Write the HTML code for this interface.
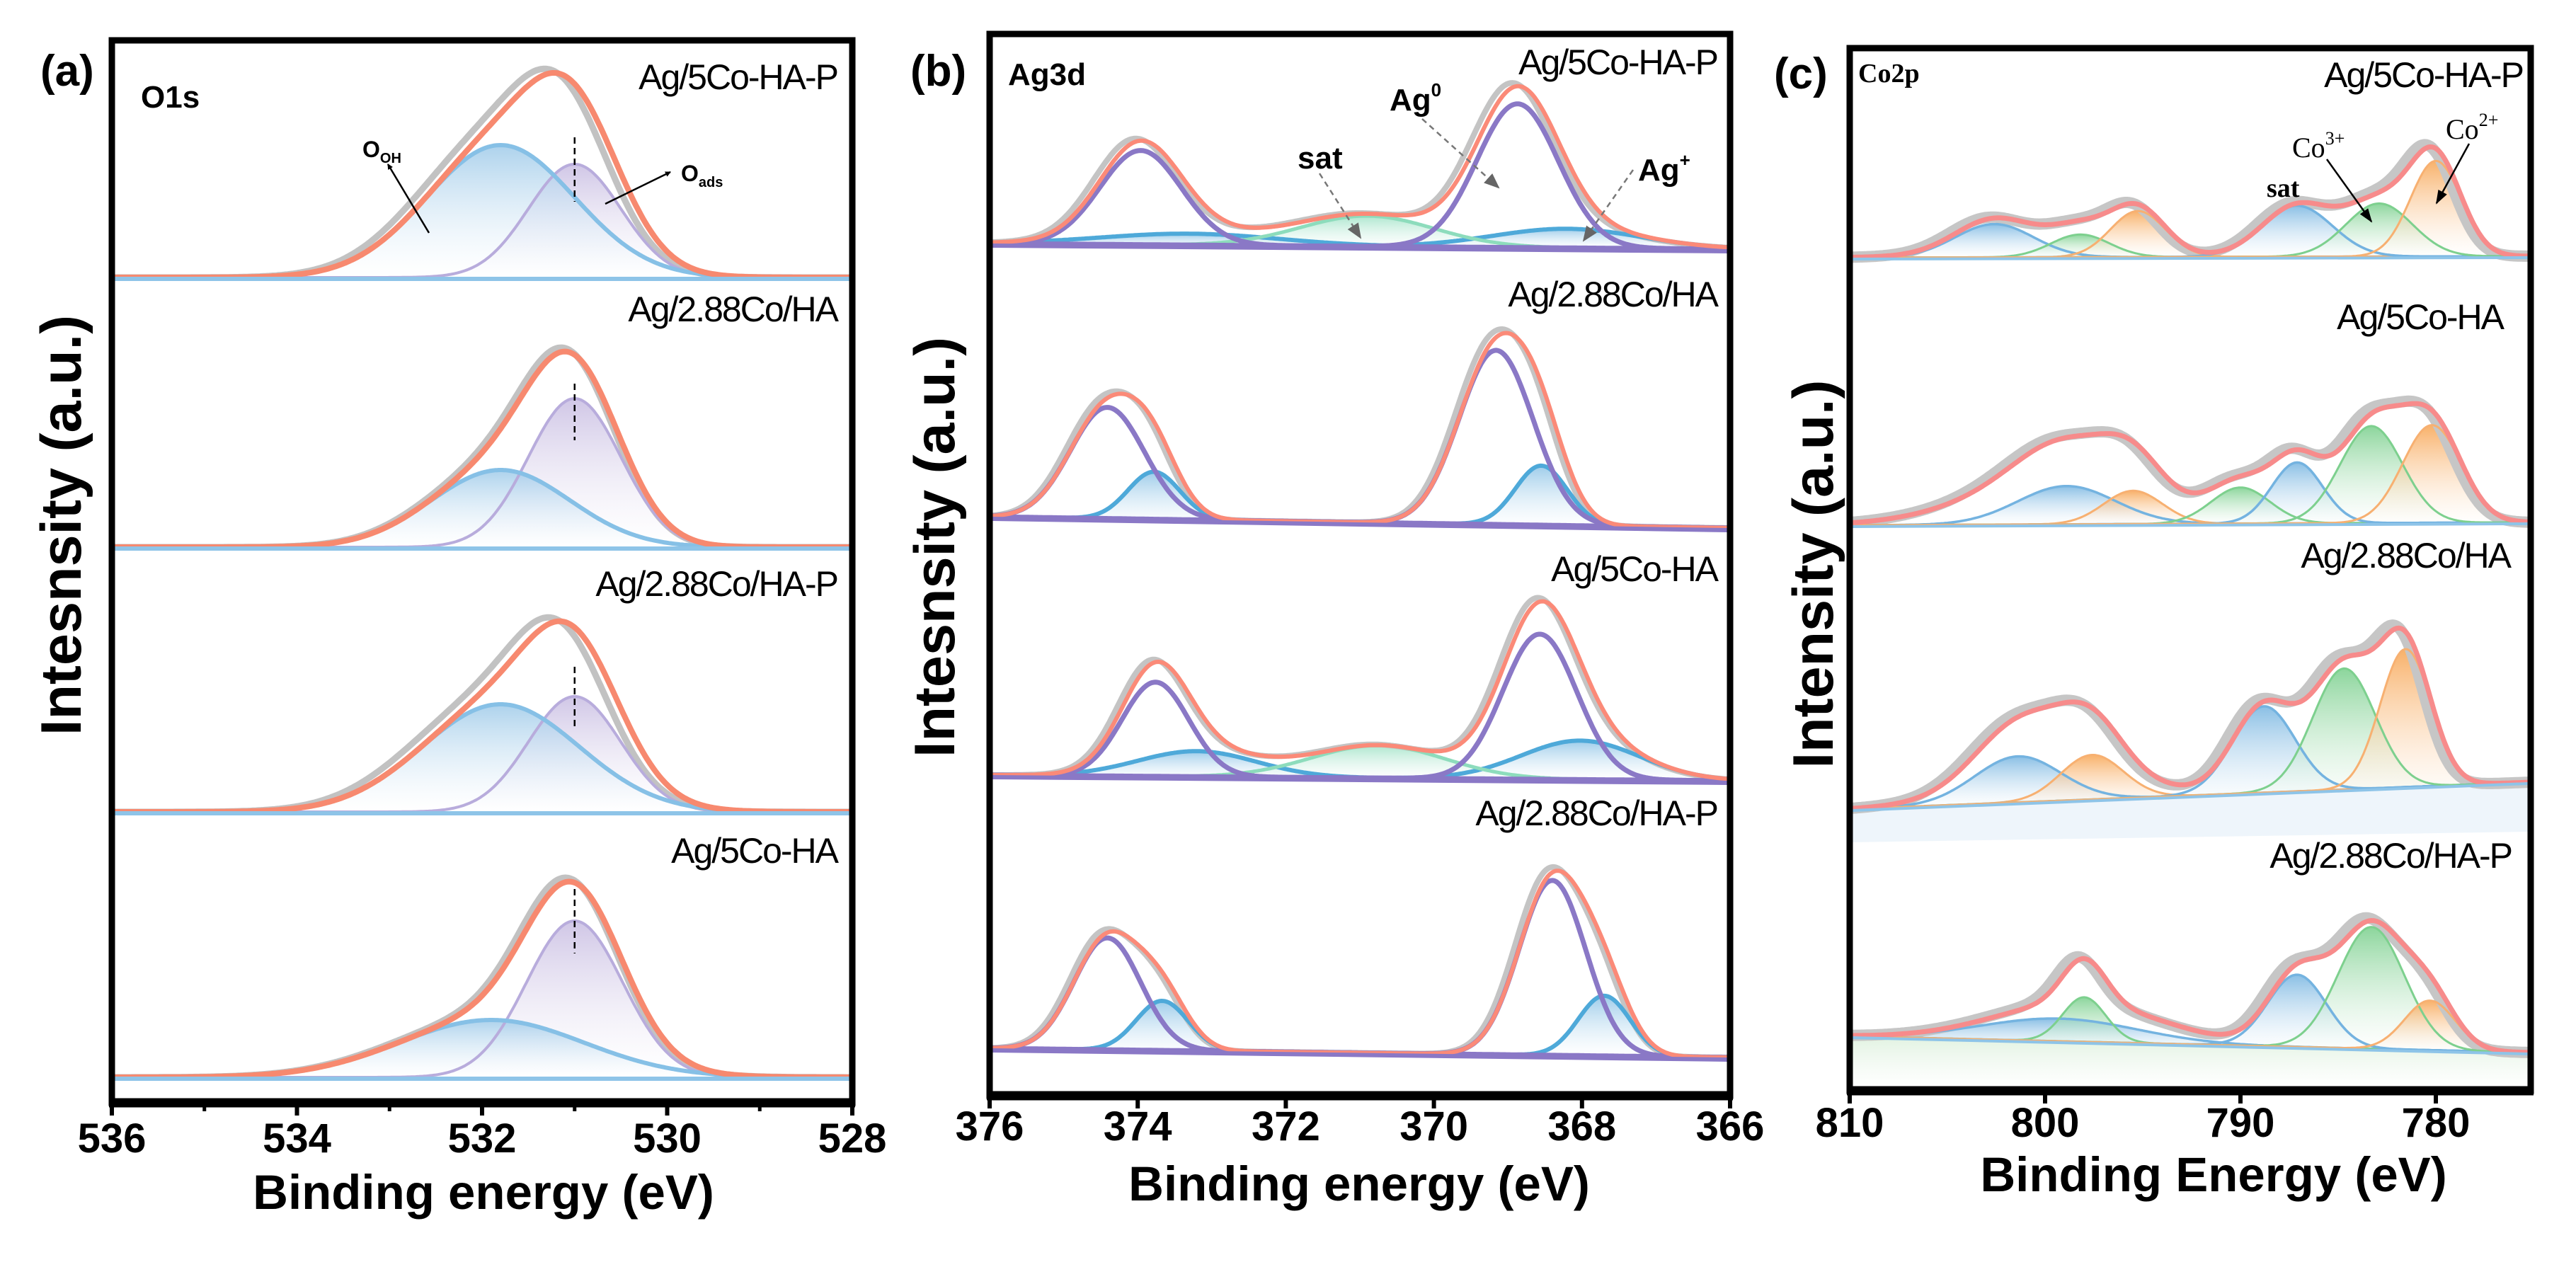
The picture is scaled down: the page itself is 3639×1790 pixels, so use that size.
<!DOCTYPE html>
<html><head><meta charset="utf-8"><style>
html,body{margin:0;padding:0;background:#fff;}
svg{display:block;}
text{font-family:"Liberation Sans",Arial,sans-serif;}
.lab{font-size:50px;letter-spacing:-2px;text-anchor:end;}
.tick{font-size:58px;font-weight:bold;text-anchor:middle;}
.title{font-size:69px;font-weight:bold;text-anchor:middle;}
.ytitle{font-size:81px;font-weight:bold;text-anchor:middle;}
.serif{font-family:"Liberation Serif",serif;}
</style></head><body>
<svg id="fig" xmlns="http://www.w3.org/2000/svg" width="3639" height="1790" viewBox="0 0 3639 1790">
<defs>
<linearGradient id="g-oh" x1="0" y1="0" x2="0" y2="1"><stop offset="0" stop-color="#9ecae9" stop-opacity="0.85"/><stop offset="1" stop-color="#ffffff" stop-opacity="0.3"/></linearGradient>
<linearGradient id="g-ads" x1="0" y1="0" x2="0" y2="1"><stop offset="0" stop-color="#c4b8e0" stop-opacity="0.8"/><stop offset="1" stop-color="#ffffff" stop-opacity="0.3"/></linearGradient>
<linearGradient id="g-agp" x1="0" y1="0" x2="0" y2="1"><stop offset="0" stop-color="#8cc3e6" stop-opacity="0.85"/><stop offset="1" stop-color="#ffffff" stop-opacity="0.3"/></linearGradient>
<linearGradient id="g-sat" x1="0" y1="0" x2="0" y2="1"><stop offset="0" stop-color="#9fe2c6" stop-opacity="0.85"/><stop offset="1" stop-color="#ffffff" stop-opacity="0.3"/></linearGradient>
<linearGradient id="g-b" x1="0" y1="0" x2="0" y2="1"><stop offset="0" stop-color="#7db8e2" stop-opacity="0.9"/><stop offset="1" stop-color="#ffffff" stop-opacity="0.3"/></linearGradient>
<linearGradient id="g-g" x1="0" y1="0" x2="0" y2="1"><stop offset="0" stop-color="#6fcb83" stop-opacity="0.8"/><stop offset="1" stop-color="#ffffff" stop-opacity="0.3"/></linearGradient>
<linearGradient id="g-o" x1="0" y1="0" x2="0" y2="1"><stop offset="0" stop-color="#f7a34f" stop-opacity="0.85"/><stop offset="1" stop-color="#ffffff" stop-opacity="0.3"/></linearGradient>
<linearGradient id="g-floor" x1="0" y1="0" x2="0" y2="1"><stop offset="0" stop-color="#d9efd9" stop-opacity="0.8"/><stop offset="1" stop-color="#ffffff" stop-opacity="0.4"/></linearGradient>
<marker id="arr" markerWidth="8" markerHeight="8" refX="7" refY="4" orient="auto" markerUnits="userSpaceOnUse" viewBox="0 0 8 8"><path d="M0,0 L8,4 L0,8 z" fill="#000"/></marker>
<marker id="arrg" markerWidth="22" markerHeight="22" refX="20" refY="11" orient="auto" markerUnits="userSpaceOnUse" viewBox="0 0 22 22"><path d="M0,2 L22,11 L0,20 z" fill="#666"/></marker>
<marker id="arrc" markerWidth="20" markerHeight="20" refX="18" refY="10" orient="auto" markerUnits="userSpaceOnUse" viewBox="0 0 20 20"><path d="M0,3 L20,10 L0,17 z" fill="#000"/></marker>
</defs>
<g id="panel-a"></g>
<g id="panel-b"></g>
<g id="panel-c"></g>
</svg>
<script>
// ===== DATA: panel (a) O1s =====
const aSamples = ['Ag/5Co-HA-P','Ag/2.88Co/HA','Ag/2.88Co/HA-P','Ag/5Co-HA'];
const aOHCenter = [531.8, 531.8, 531.8, 531.9];
const aOHAmp = [187, 109, 152, 81];
const aOHSigma = [0.8, 0.75, 0.85, 1.0];
const aAdsCenter = [531.0, 531.0, 531.0, 531.0];
const aAdsAmp = [160, 210, 163, 221];
const aAdsSigma = [0.5, 0.5, 0.5, 0.52];
const aRawShift = [0.1, 0.04, 0.12, 0.04];
const aTicks = [536, 534, 532, 530, 528];
const aMinorTicks = [535, 533, 531, 529];

// ===== DATA: panel (b) Ag3d =====
const bSamples = ['Ag/5Co-HA-P','Ag/2.88Co/HA','Ag/5Co-HA','Ag/2.88Co/HA-P'];
const bCenters = [[373.96,368.87,373.3,368.2,370.9],[374.41,369.16,373.78,368.55],[373.76,368.57,373.2,368.02,370.75],[374.41,368.4,373.67,367.7]];
const bAmps = [[133,203,16,27,43],[157,246,67,84],[133,205,36,55,46],[158,247,70,85]];
const bSigmas = [[0.55,0.55,1.2,1.0,0.9],[0.5,0.5,0.35,0.35],[0.45,0.5,0.8,0.8,0.9],[0.45,0.45,0.35,0.35]];
const bTypes = [['ag0','ag0','agp','agp','sat'],['ag0','ag0','agp','agp'],['ag0','ag0','agp','agp','sat'],['ag0','ag0','agp','agp']];
const bRawShift = [0.08, 0.06, 0.06, 0.06];
const bTicks = [376, 374, 372, 370, 368, 366];

// ===== DATA: panel (c) Co2p =====
const cSamples = ['Ag/5Co-HA-P','Ag/5Co-HA','Ag/2.88Co/HA','Ag/2.88Co/HA-P'];
const cCenters = [[802.6,798.2,795.25,787.1,782.9,780.0],[798.9,795.5,790.0,787.1,783.3,780.2],[801.4,797.6,788.8,784.7,781.55],[799.3,798.0,787.1,783.3,780.3]];
const cAmps = [[47,32,65,72,75,135],[54,47,51,86,137,138],[65,63,122,171,195],[32,63,102,172,70]];
const cSigmas = [[2.0,1.5,1.4,1.8,1.7,1.3],[2.5,1.5,1.5,1.3,1.6,1.5],[2.2,1.6,1.6,1.6,1.3],[4.0,1.1,1.5,1.7,1.3]];
const cTypes = [['b','g','o','b','g','o'],['b','o','g','b','g','o'],['b','o','b','g','o'],['b','g','b','g','o']];
const cBgCenter = [800, 799, 799.5, 797];
const cBgAmp = [10, 65, 60, 25];
const cBgSigma = [4, 4.5, 3.5, 4];
const cTicks = [810, 800, 790, 780];

// ===== helpers =====
const NS = 'http://www.w3.org/2000/svg';
function mk(parent, tag, attrs, txt){
  const el = document.createElementNS(NS, tag);
  for (const k in attrs) el.setAttribute(k, attrs[k]);
  if (txt !== undefined) el.textContent = txt;
  parent.appendChild(el);
  return el;
}
function gauss(e, c, a, s){ return a*Math.exp(-(e-c)*(e-c)/(2*s*s)); }
function pathFrom(pts){ return pts.map((p,i)=>(i?'L':'M')+p[0].toFixed(1)+','+p[1].toFixed(1)).join(''); }

function frame(g, L, T, R, B, name){
  const f = mk(g,'rect',{x:L,y:T,width:R-L,height:B-T,fill:'none',stroke:'#000','stroke-width':9});
  
  
  const ax = mk(g,'line',{x1:L-4,y1:B,x2:R+4,y2:B,stroke:'#000','stroke-width':13});
  
  
}

// spectrum subplot drawer
function drawSub(g, xf, e0, e1, step, yl, yr, xl, xr, comps, styles, redStyle, rawShift, bg){
  const base = x => yl + (yr-yl)*(x-xl)/(xr-xl);
  const es = [];
  for (let e=e1; e<=e0+1e-9; e+=step) es.push(e);
  // fills
  comps.forEach(cp=>{
    const st = styles[cp.t];
    if (!st.fill) return;
    const pts = es.map(e=>{const x=xf(e); return [x, base(x)-gauss(e,cp.c,cp.a,cp.s)];});
    const back = es.slice().reverse().map(e=>{const x=xf(e); return [x, base(x)];});
    const p = mk(g,'path',{d:pathFrom(pts.concat(back))+'Z',fill:st.fill,stroke:'none'});
    
    
  });
  const env = e => comps.reduce((s,cp)=>s+gauss(e,cp.c,cp.a,cp.s),0) + (bg? gauss(e,bg.c,bg.a,bg.s):0);
  // raw data (grey)
  const raw = es.map(e=>{const x=xf(e); return [x, base(x)-env(e-rawShift)*1.02];});
  const rp = mk(g,'path',{d:pathFrom(raw),fill:'none',stroke:redStyle.raw,'stroke-width':redStyle.rawW,'stroke-linejoin':'round'});
  
  
  // component strokes
  comps.forEach(cp=>{
    const st = styles[cp.t];
    const pts = es.map(e=>{const x=xf(e); return [x, base(x)-gauss(e,cp.c,cp.a,cp.s)];});
    const p = mk(g,'path',{d:pathFrom(pts),fill:'none',stroke:st.stroke,'stroke-width':st.w,'stroke-linejoin':'round'});
    
    
  });
  // envelope
  const ep = es.map(e=>{const x=xf(e); return [x, base(x)-env(e)];});
  const rl = mk(g,'path',{d:pathFrom(ep),fill:'none',stroke:redStyle.c,'stroke-width':redStyle.w,'stroke-linejoin':'round'});
  
  
}

// ===== PANEL A =====
(function(){
  const g = document.getElementById('panel-a');
  const L=158, R=1204, T=57, B=1558;
  const xa = e => L + (536-e)/8*(R-L);
  const bases = [392, 773, 1147, 1522];
  const labY = [108, 436, 824, 1201];
  const styles = {oh:{fill:'url(#g-oh)',stroke:'#86c0e6',w:6}, ads:{fill:'url(#g-ads)',stroke:'#b8acdc',w:4}};
  const dashTop = [194, 542, 942, 1256], dashBot=[285, 622, 1027, 1347];
  aSamples.forEach((s,i)=>{
    const sg = mk(g,'g',{});
    
    
    const comps = [{c:aAdsCenter[i],a:aAdsAmp[i],s:aAdsSigma[i],t:'ads'},{c:aOHCenter[i],a:aOHAmp[i],s:aOHSigma[i],t:'oh'}];
    drawSub(sg, xa, 536, 528, 0.02, bases[i], bases[i], L, R, comps, styles, {c:'#f7896f',w:8,raw:'#c2c2c2',rawW:9}, aRawShift[i], null);
    mk(sg,'line',{x1:L+4,y1:bases[i]+2,x2:R-4,y2:bases[i]+2,stroke:'#8ec4e8','stroke-width':6});
    const dl = mk(sg,'line',{x1:xa(aAdsCenter[i]),y1:dashTop[i],x2:xa(aAdsCenter[i]),y2:dashBot[i],stroke:'#000','stroke-width':2.5,'stroke-dasharray':'9,6'});
    
    
    const t = mk(sg,'text',{x:1183,y:labY[i]+18,class:'lab'}, s);
    
    
  });
  frame(g, L, T, R, B, 'panel-a');
  aTicks.forEach(v=>{
    mk(g,'line',{x1:xa(v),y1:B,x2:xa(v),y2:B+18,stroke:'#000','stroke-width':6});
    const t = mk(g,'text',{x:xa(v),y:1628,class:'tick'}, String(v));
    
    
  });
  aMinorTicks.forEach(v=>{ mk(g,'line',{x1:xa(v),y1:B,x2:xa(v),y2:B+12,stroke:'#000','stroke-width':5}); });
  let t = mk(g,'text',{x:683,y:1708,class:'title'},'Binding energy (eV)');
   
  t = mk(g,'text',{x:0,y:0,class:'ytitle',transform:'translate(114,742) rotate(-90)'},'Intesnsity (a.u.)');
   
  t = mk(g,'text',{x:57,y:121,'font-size':62,'font-weight':'bold'},'(a)');
   
  t = mk(g,'text',{x:199,y:152,'font-size':44,'font-weight':'bold'},'O1s');
   
  t = mk(g,'text',{x:512,y:222,'font-size':32,'font-weight':'bold'},'O');
  mk(t,'tspan',{'font-size':20,dy:8},'OH');
   
  mk(g,'line',{x1:606,y1:329,x2:548,y2:232,stroke:'#000','stroke-width':2.5,'marker-end':'url(#arr)'});
  mk(g,'line',{x1:855,y1:288,x2:947,y2:243,stroke:'#000','stroke-width':2.5,'marker-end':'url(#arr)'});
  t = mk(g,'text',{x:962,y:256,'font-size':32,'font-weight':'bold'},'O');
  mk(t,'tspan',{'font-size':20,dy:8},'ads');
   
})();

// ===== PANEL B =====
(function(){
  const g = document.getElementById('panel-b');
  const L=1398, R=2444, T=48, B=1548;
  const xb = e => L + (376-e)/10*(R-L);
  const bl = [344, 730, 1095, 1481], br=[352, 746, 1103, 1494];
  const labY = [87, 415, 803, 1148];
  const styles = {ag0:{fill:null,stroke:'#8a78c6',w:7}, agp:{fill:'url(#g-agp)',stroke:'#4ea9d9',w:6}, sat:{fill:'url(#g-sat)',stroke:'#8ddcbc',w:5}};
  bSamples.forEach((s,i)=>{
    const sg = mk(g,'g',{});
    
    
    const comps = bCenters[i].map((c,k)=>({c:c,a:bAmps[i][k],s:bSigmas[i][k],t:bTypes[i][k]}));
    // order: sat/agp fills first handled in drawSub; sort so ag0 strokes on top
    comps.sort((p,q)=>(p.t==='ag0')-(q.t==='ag0'));
    drawSub(sg, xb, 376, 366, 0.02, bl[i], br[i], L, R, comps, styles, {c:'#fb8a78',w:6,raw:'#c4c4c4',rawW:8}, bRawShift[i], null);
    mk(sg,'line',{x1:L+4,y1:bl[i]+3,x2:R-4,y2:br[i]+3,stroke:'#8a78c6','stroke-width':6});
    const t = mk(sg,'text',{x:2426,y:labY[i]+18,class:'lab'}, s);
    
    
  });
  frame(g, L, T, R, B, 'panel-b');
  bTicks.forEach(v=>{
    mk(g,'line',{x1:xb(v),y1:B,x2:xb(v),y2:B+18,stroke:'#000','stroke-width':6});
    const t = mk(g,'text',{x:xb(v),y:1611,class:'tick'}, String(v));
    
    
  });
  let t = mk(g,'text',{x:1920,y:1696,class:'title'},'Binding energy (eV)');
   
  t = mk(g,'text',{x:0,y:0,class:'ytitle',transform:'translate(1348,773) rotate(-90)'},'Intesnsity (a.u.)');
   
  t = mk(g,'text',{x:1286,y:121,'font-size':62,'font-weight':'bold'},'(b)');
   
  t = mk(g,'text',{x:1424,y:120,'font-size':44,'font-weight':'bold'},'Ag3d');
   
  t = mk(g,'text',{x:1833,y:238,'font-size':44,'font-weight':'bold'},'sat');
   
  t = mk(g,'text',{x:1963,y:156,'font-size':44,'font-weight':'bold'},'Ag');
  mk(t,'tspan',{'font-size':26,dy:-20},'0');
   
  t = mk(g,'text',{x:2314,y:255,'font-size':44,'font-weight':'bold'},'Ag');
  mk(t,'tspan',{'font-size':26,dy:-20},'+');
   
  mk(g,'line',{x1:1864,y1:245,x2:1922,y2:336,stroke:'#777','stroke-width':2.5,'stroke-dasharray':'8,6','marker-end':'url(#arrg)'});
  mk(g,'line',{x1:2009,y1:168,x2:2117,y2:265,stroke:'#777','stroke-width':2.5,'stroke-dasharray':'8,6','marker-end':'url(#arrg)'});
  mk(g,'line',{x1:2307,y1:240,x2:2237,y2:340,stroke:'#777','stroke-width':2.5,'stroke-dasharray':'8,6','marker-end':'url(#arrg)'});
})();

// ===== PANEL C =====
(function(){
  const g = document.getElementById('panel-c');
  const L=2613, R=3575, T=68, B=1541;
  const xc = e => L + (810-e)*27.6;
  const bl = [364, 742, 1143, 1464], br=[362, 738, 1105, 1487];
  const labY = [106, 448, 785, 1209];
  const labR = [3564, 3536, 3546, 3548];
  const styles = {b:{fill:'url(#g-b)',stroke:'#74b3e0',w:3.5}, g:{fill:'url(#g-g)',stroke:'#7dd08e',w:3}, o:{fill:'url(#g-o)',stroke:'#f7b071',w:3}};
  // floor shading below last baselines
  const fl = mk(g,'path',{d:`M${L},${bl[3]} L${R},${br[3]} L${R},${B} L${L},${B}Z`,fill:'url(#g-floor)'});
   
  mk(g,'path',{d:`M${L},${bl[2]} L${R},${br[2]} L${R},1175 L${L},1190Z`,fill:'#eaf3fa',opacity:0.8});
  cSamples.forEach((s,i)=>{
    const sg = mk(g,'g',{});
    
    
    const comps = cCenters[i].map((c,k)=>({c:c,a:cAmps[i][k],s:cSigmas[i][k],t:cTypes[i][k]}));
    const bg = {c:cBgCenter[i],a:cBgAmp[i],s:cBgSigma[i]};
    drawSub(sg, xc, 810, 775.1, 0.1, bl[i], br[i], L, R, comps, styles, {c:'#f78b8b',w:7,raw:'#c6c6c6',rawW:16}, 0.3, bg);
    mk(sg,'line',{x1:L+4,y1:bl[i]+2,x2:R-4,y2:br[i]+2,stroke:'#8ec4e8','stroke-width':4});
    const t = mk(sg,'text',{x:labR[i],y:labY[i]+17,class:'lab','font-size':46}, s);
    
    
  });
  frame(g, L, T, R, B, 'panel-c');
  cTicks.forEach(v=>{
    mk(g,'line',{x1:xc(v),y1:B,x2:xc(v),y2:B+18,stroke:'#000','stroke-width':6});
    const t = mk(g,'text',{x:xc(v),y:1606,class:'tick'}, String(v));
    
    
  });
  let t = mk(g,'text',{x:3127,y:1683,class:'title'},'Binding Energy (eV)');
   
  t = mk(g,'text',{x:0,y:0,class:'ytitle',transform:'translate(2589,811) rotate(-90)'},'Intensity (a.u.)');
   
  t = mk(g,'text',{x:2506,y:125,'font-size':62,'font-weight':'bold'},'(c)');
   
  t = mk(g,'text',{x:2625,y:116,'font-size':38,'font-weight':'bold',class:'serif'},'Co2p');
   
  t = mk(g,'text',{x:3202,y:278,'font-size':38,'font-weight':'bold',class:'serif'},'sat');
   
  t = mk(g,'text',{x:3238,y:222,'font-size':40,class:'serif'},'Co');
  mk(t,'tspan',{'font-size':26,dy:-18},'3+');
   
  t = mk(g,'text',{x:3455,y:196,'font-size':40,class:'serif'},'Co');
  mk(t,'tspan',{'font-size':26,dy:-18},'2+');
   
  mk(g,'line',{x1:3287,y1:225,x2:3350,y2:313,stroke:'#000','stroke-width':2.5,'marker-end':'url(#arrc)'});
  mk(g,'line',{x1:3488,y1:203,x2:3442,y2:287,stroke:'#000','stroke-width':2.5,'marker-end':'url(#arrc)'});
})();
</script>
</body></html>
